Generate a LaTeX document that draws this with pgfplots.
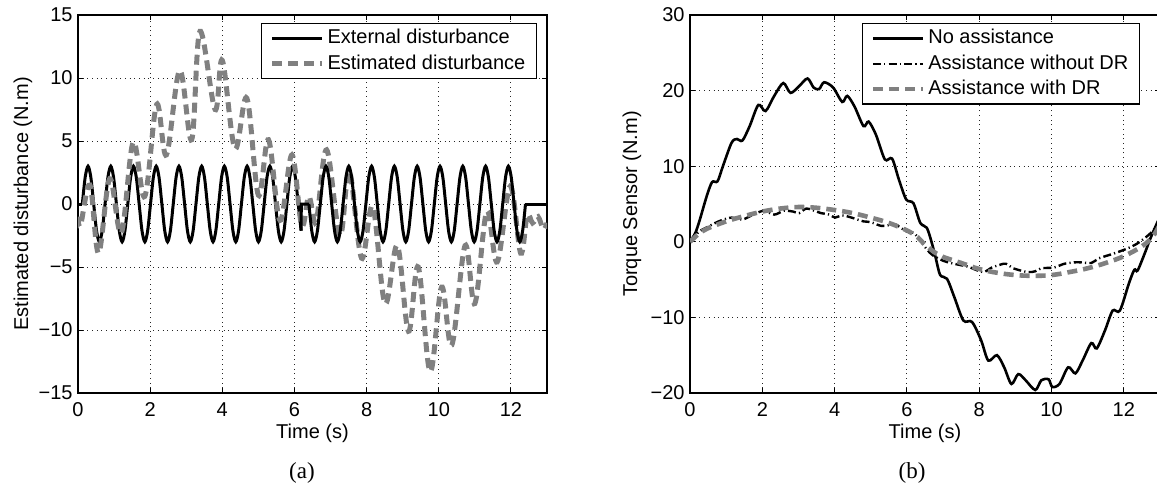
\documentclass[border=0pt]{standalone}
\usepackage{pgfplots}
\pgfplotsset{compat=1.18}
\usepackage{fontspec}
\setmainfont{Liberation Sans}
\newfontfamily\captionfont{Liberation Serif}
\definecolor{mgray}{RGB}{128,128,128}
\pgfplotsset{
  myax/.style={
    scale only axis, anchor=south west,
    height=189pt,
    xmin=0, xmax=13,
    xtick={0,2,4,6,8,10,12},
    xticklabels={0,2,4,6,8,10,12},
    font=\fontsize{10}{12}\selectfont,
    tick label style={font=\fontsize{10}{12}\selectfont},
    xticklabel style={anchor=north, inner sep=0pt, yshift=-4.5pt},
    yticklabel style={anchor=east, inner sep=0pt, xshift=-2.5pt},
    axis line style={line width=0.6pt},
    every tick/.style={black, line width=0.5pt},
    major tick length=2.5pt,
    tick align=inside,
    grid=major,
    grid style={black!85, line width=0.45pt, dash pattern=on 0.45pt off 1.9pt},
    xlabel={Time (s)},
    xlabel style={at={(axis description cs:0.5,0)}, anchor=center, yshift=-20pt},
    legend cell align=left,
    legend style={draw=black, line width=0.6pt, fill=white,
      font=\fontsize{10}{12}\selectfont,
      inner xsep=4pt, inner ysep=1.2pt,
      nodes={inner sep=1.5pt, text height=7.4pt, text depth=2.2pt}},
    legend image code/.code={\draw[##1] (0pt,0pt) -- (25pt,0pt);},
  }
}
\begin{document}
\begin{tikzpicture}
\path[use as bounding box] (0,0) rectangle (578.5pt,244pt);

\begin{axis}[myax, at={(39pt,47.5pt)}, width=234.5pt,
  ymin=-15, ymax=15,
  ytick={-15,-10,-5,0,5,10,15},
  yticklabels={−15,−10,−5,0,5,10,15},
  ylabel={Estimated disturbance (N.m)},
  ylabel style={at={(axis description cs:-0.1173,0.5)}, anchor=center, rotate=0},
  legend style={at={(1,1)}, anchor=north east, xshift=-5pt, yshift=-4pt},
]
\addplot[black, line width=1.5pt, smooth, tension=0.5] coordinates {
(0.120,0) (0.199,2.12) (0.278,3) (0.356,2.12) (0.435,0) (0.514,-2.12) (0.593,-3) (0.671,-2.12)
(0.750,0) (0.829,2.12) (0.908,3) (0.986,2.12) (1.065,0) (1.144,-2.12) (1.223,-3) (1.301,-2.12)
(1.380,0) (1.459,2.12) (1.538,3) (1.616,2.12) (1.695,0) (1.774,-2.12) (1.853,-3) (1.931,-2.12)
(2.010,0) (2.089,2.12) (2.168,3) (2.246,2.12) (2.325,0) (2.404,-2.12) (2.483,-3) (2.561,-2.12)
(2.640,0) (2.719,2.12) (2.798,3) (2.876,2.12) (2.955,0) (3.034,-2.12) (3.113,-3) (3.191,-2.12)
(3.270,0) (3.349,2.12) (3.428,3) (3.506,2.12) (3.585,0) (3.664,-2.12) (3.743,-3) (3.821,-2.12)
(3.900,0) (3.979,2.12) (4.058,3) (4.136,2.12) (4.215,0) (4.294,-2.12) (4.373,-3) (4.451,-2.12)
(4.530,0) (4.609,2.12) (4.688,3) (4.766,2.12) (4.845,0) (4.924,-2.12) (5.003,-3) (5.081,-2.12)
(5.160,0) (5.239,2.12) (5.318,3) (5.396,2.12) (5.475,0) (5.554,-2.12) (5.633,-3) (5.711,-2.12)
(5.790,0) (5.869,2.12) (5.948,3) (6.026,2.12) (6.105,0) (6.184,-2.12)
};
\addlegendentry{External disturbance}
\addplot[mgray, line width=2.5pt, dash pattern=on 5pt off 3pt, smooth, tension=0.6] coordinates {
(0,-1.0) (0.07,-1.7) (0.33,1.5) (0.57,-3.9) (0.88,2.0) (1.2,-2.3) (1.53,4.9) (1.85,0.6)
(2.18,7.9) (2.45,3.9) (2.82,10.6) (3.15,5.1) (3.38,13.7) (3.8,7.5) (4.0,11.4) (4.35,4.4)
(4.68,8.4) (5.0,0.7) (5.28,5.1) (5.6,-1.3) (5.93,3.9) (6.2,-1.7) (6.4,0.6) (6.6,-1.4)
(6.89,4.3) (7.26,-2.5) (7.52,2.6) (7.86,-4.3) (8.17,-0.2) (8.51,-7.9) (8.85,-3.3) (9.16,-10.1)
(9.43,-5.0) (9.76,-13.3) (10.08,-6.6) (10.36,-11.2) (10.73,-3.3) (11.0,-7.9) (11.33,-0.6)
(11.62,-4.6) (11.98,1.4) (12.27,-3.9) (12.45,-0.9) (12.6,-1.5) (12.75,-1.0) (12.9,-2.0) (13,-1.5)
};
\addlegendentry{Estimated disturbance}
\addplot[black, line width=1.5pt, forget plot] coordinates {(0,0) (0.12,0)};
\addplot[black, line width=1.5pt, forget plot] coordinates {(6.184,-2.12) (6.19,0) (6.40,0)};
\addplot[black, line width=1.5pt, smooth, tension=0.5, forget plot] coordinates {
(6.400,0) (6.479,-2.12) (6.558,-3) (6.637,-2.12) (6.716,0) (6.795,2.12) (6.874,3) (6.953,2.12)
(7.032,0) (7.111,-2.12) (7.190,-3) (7.269,-2.12) (7.348,0) (7.427,2.12) (7.506,3) (7.585,2.12)
(7.664,0) (7.743,-2.12) (7.822,-3) (7.901,-2.12) (7.980,0) (8.059,2.12) (8.138,3) (8.217,2.12)
(8.296,0) (8.375,-2.12) (8.454,-3) (8.533,-2.12) (8.612,0) (8.691,2.12) (8.770,3) (8.849,2.12)
(8.928,0) (9.007,-2.12) (9.086,-3) (9.165,-2.12) (9.244,0) (9.323,2.12) (9.402,3) (9.481,2.12)
(9.560,0) (9.639,-2.12) (9.718,-3) (9.797,-2.12) (9.876,0) (9.955,2.12) (10.034,3) (10.113,2.12)
(10.192,0) (10.271,-2.12) (10.350,-3) (10.429,-2.12) (10.508,0) (10.587,2.12) (10.666,3) (10.745,2.12)
(10.824,0) (10.903,-2.12) (10.982,-3) (11.061,-2.12) (11.140,0) (11.219,2.12) (11.298,3) (11.377,2.12)
(11.456,0) (11.535,-2.12) (11.614,-3) (11.693,-2.12) (11.772,0) (11.851,2.12) (11.930,3) (12.009,2.12)
(12.088,0) (12.167,-2.12) (12.246,-3) (12.325,-2.12) (12.404,0)
};
\addplot[black, line width=1.5pt, forget plot] coordinates {(12.404,0) (13,0)};
\end{axis}

\begin{axis}[myax, at={(345pt,47.5pt)}, width=235pt,
  ymin=-20, ymax=30,
  ytick={-20,-10,0,10,20,30},
  yticklabels={−20,−10,0,10,20,30},
  ylabel={Torque Sensor (N.m)},
  ylabel style={at={(axis description cs:-0.1234,0.5)}, anchor=center, rotate=0},
  legend style={at={(1,1)}, anchor=north east, xshift=-10pt, yshift=-4pt},
]
\addplot[black, line width=1.3pt, smooth, tension=0.5] coordinates {
(0,0) (0.15,1.2) (0.27,2.9) (0.46,6.0) (0.61,7.9) (0.76,8.0) (0.91,10.0) (1.15,13.1) (1.3,13.6)
(1.45,13.4) (1.65,15.3) (1.89,18.1) (2.09,17.3) (2.33,19.3) (2.58,21.0) (2.78,19.7) (3.02,20.6)
(3.25,21.6) (3.42,20.4) (3.57,20.2) (3.71,21.1) (3.96,20.4) (4.21,18.5) (4.35,19.3) (4.55,17.9)
(4.8,15.3) (4.94,15.9) (5.14,14.2) (5.39,10.9) (5.59,11.0) (5.78,8.2) (5.98,5.6) (6.18,5.1)
(6.37,2.5) (6.55,1.85) (6.68,0) (6.8,-2.2) (6.92,-4.4) (7.11,-4.9) (7.31,-7.3) (7.56,-10.4)
(7.8,-10.6) (8.05,-13.0) (8.25,-15.7) (8.49,-15.0) (8.69,-16.6) (8.89,-18.8) (9.08,-17.5)
(9.28,-18.3) (9.55,-19.6) (9.72,-18.3) (9.92,-18.2) (10.02,-19.2) (10.22,-18.8) (10.46,-16.6)
(10.66,-17.4) (10.86,-15.7) (11.1,-13.4) (11.25,-14.1) (11.48,-11.7) (11.69,-9.1) (11.89,-9.1)
(12.14,-5.5) (12.29,-3.7) (12.38,-3.8) (12.58,-1.5) (12.73,0.4) (12.92,2.5) (13,3.2)
};
\addlegendentry{No assistance}
\addplot[black, line width=1.2pt, dash pattern=on 4pt off 1.6pt on 0.6pt off 1.6pt, smooth, tension=0.5] coordinates {
(0,0) (0.15,0.9) (0.3,1.5) (0.46,1.9) (0.7,2.5) (0.9,2.9) (1.15,3.2) (1.45,2.95) (1.75,3.6)
(2.04,4.1) (2.33,3.6) (2.6,4.1) (2.85,4.0) (3.02,3.8) (3.22,4.4) (3.5,4.0) (3.62,3.8) (3.85,3.6)
(4.01,3.2) (4.2,3.5) (4.4,3.3) (4.6,3.0) (4.8,2.7) (5.0,2.6) (5.29,2.1) (5.5,2.2) (5.68,2.3)
(5.98,1.4) (6.18,1.2) (6.37,0.2) (6.55,-1.0) (6.72,-1.8) (7.0,-2.5) (7.21,-2.8) (7.5,-3.1)
(7.7,-3.3) (8.1,-4.0) (8.35,-3.4) (8.6,-3.0) (8.74,-2.9) (8.94,-3.5) (9.33,-4.0) (9.55,-3.9)
(9.72,-3.5) (10.07,-3.4) (10.36,-2.9) (10.71,-2.7) (11.1,-2.8) (11.3,-2.2) (11.69,-1.6)
(12.09,-0.9) (12.38,-0.2) (12.73,1.1) (13,2.6)
};
\addlegendentry{Assistance without DR}
\addplot[mgray, line width=2.3pt, dash pattern=on 5pt off 3pt, smooth, tension=0.6] coordinates {
(0,0) (0.3,1.3) (0.5,1.8) (1,2.7) (1.5,3.4) (2,4.0) (2.5,4.4) (3,4.6) (3.5,4.5) (4,4.2)
(4.5,3.8) (5,3.2) (5.5,2.5) (6,1.5) (6.3,0.6) (6.5,-0.4) (6.8,-1.5) (7,-2.0) (7.5,-2.8)
(8,-3.6) (8.5,-4.1) (9,-4.4) (9.5,-4.5) (10,-4.4) (10.5,-4.0) (11,-3.5) (11.5,-2.8)
(12,-1.9) (12.5,-0.6) (12.8,0.7) (13,2.3)
};
\addlegendentry{Assistance with DR}
\end{axis}

\node[font=\captionfont\fontsize{11.5}{13}\selectfont] at (151pt,7.5pt) {(a)};
\node[font=\captionfont\fontsize{11.5}{13}\selectfont] at (456pt,7.5pt) {(b)};
\end{tikzpicture}
\end{document}
